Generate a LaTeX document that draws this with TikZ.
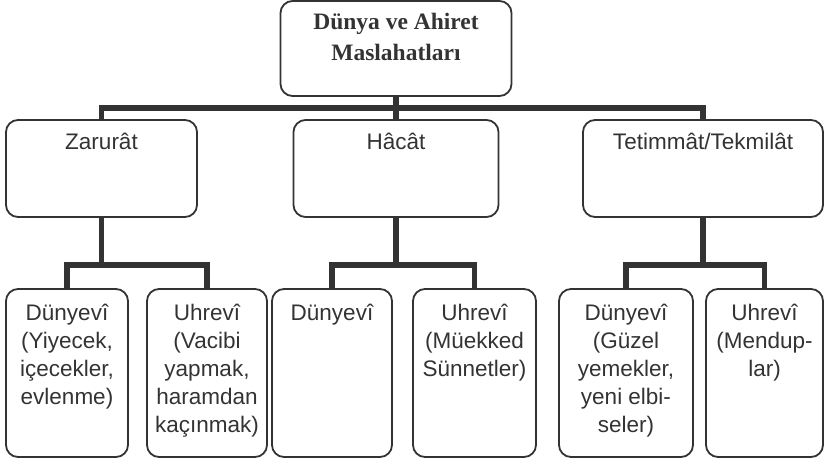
\documentclass[tikz,border=0pt]{standalone}
\usepackage{fontspec}
\setmainfont{Liberation Serif}
\newfontfamily\duzyazi{Liberation Sans}
\usepackage{tikz}
\definecolor{koyu}{HTML}{333333}
\newcommand{\kalin}{5.5pt}
\newcommand{\ince}{1.8pt}

\begin{document}
\begin{tikzpicture}[x=1pt,y=-1pt,
    kutu/.style={draw=koyu, line width=\ince, rounded corners=12pt, inner sep=0pt},
    yazi/.style={anchor=north, align=center, inner sep=0pt, text=koyu,
      font=\duzyazi\fontsize{22.5}{28}\selectfont},
    bag/.style={draw=koyu, line width=\kalin}]

      \useasboundingbox (0,0) rectangle (825,463);

      % ust kutu
      \node (ust) at (396,48.5)   [kutu, minimum width=231pt, minimum height=95pt] {};
      \node (ustyazi) at ([yshift=-13pt]ust.north) [yazi, font=\rmfamily\bfseries\fontsize{23.5}{30.5}\selectfont]
        {Dünya ve Ahiret\\Maslahatları};

      % orta kutular
      \node (zar) at (101.5,168.5) [kutu, minimum width=191pt, minimum height=97pt] {};
      \node (hac) at (396,168.5)   [kutu, minimum width=205pt, minimum height=97pt] {};
      \node (tet) at (703,168.5)   [kutu, minimum width=240pt, minimum height=97pt] {};
      \node (zaryazi) at ([yshift=-14pt]zar.north) [yazi] {Zarurât};
      \node (hacyazi) at ([yshift=-14pt]hac.north) [yazi] {Hâcât};
      \node (tetyazi) at ([yshift=-14pt]tet.north) [yazi] {Tetimmât/Tekmilât};

      % alt kutular
      \node (d1) at (67,373)    [kutu, minimum width=122pt, minimum height=168pt] {};
      \node (u1) at (207,373)   [kutu, minimum width=120pt, minimum height=168pt] {};
      \node (d2) at (332,373)   [kutu, minimum width=120pt, minimum height=168pt] {};
      \node (u2) at (474.5,373) [kutu, minimum width=123pt, minimum height=168pt] {};
      \node (d3) at (626,373)   [kutu, minimum width=134pt, minimum height=168pt] {};
      \node (u3) at (764.5,373) [kutu, minimum width=117pt, minimum height=168pt] {};
      \node (d1yazi) at ([yshift=-16pt]d1.north) [yazi] {Dünyevî\\(Yiyecek,\\içecekler,\\evlenme)};
      \node (u1yazi) at ([yshift=-16pt]u1.north) [yazi] {Uhrevî\\(Vacibi\\yapmak,\\haramdan\\kaçınmak)};
      \node (d2yazi) at ([yshift=-16pt]d2.north) [yazi] {Dünyevî};
      \node (u2yazi) at ([yshift=-16pt]u2.north) [yazi] {Uhrevî\\(Müekked\\Sünnetler)};
      \node (d3yazi) at ([yshift=-16pt]d3.north) [yazi] {Dünyevî\\(Güzel\\yemekler,\\yeni elbi-\\seler)};
      \node (u3yazi) at ([yshift=-16pt]u3.north) [yazi] {Uhrevî\\(Mendup-\\lar)};

      % baglantilar
      \coordinate (c0) at (396,108);
      \coordinate (c1) at (101.5,265);
      \coordinate (c2) at (396,265);
      \coordinate (c3) at (703,265);
      \draw[bag] (ust) to (hac);
      \draw[bag] (zar.north) |- (c0) -| (tet.north);
      \draw[bag] (zar.south) to (c1);
      \draw[bag] (hac.south) to (c2);
      \draw[bag] (tet.south) to (c3);
      \draw[bag] (d1.north) |- (c1) -| (u1.north);
      \draw[bag] (d2.north) |- (c2) -| (u2.north);
      \draw[bag] (d3.north) |- (c3) -| (u3.north);

  \end{tikzpicture}
\end{document}
